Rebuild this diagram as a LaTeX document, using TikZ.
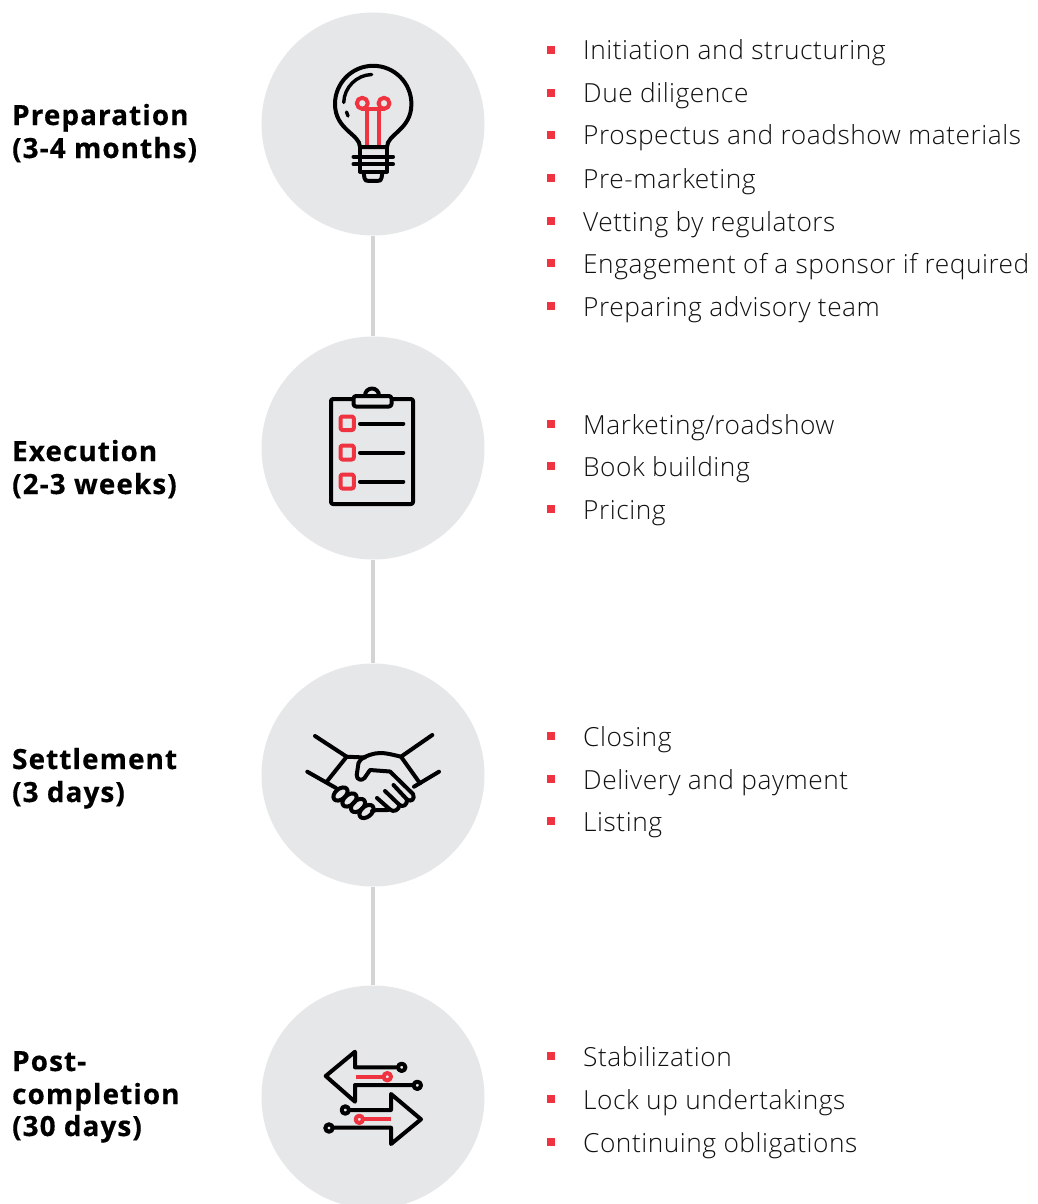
\documentclass[tikz,border=0pt]{standalone}
\usepackage{fontspec}
\newfontfamily\bodyf{Open Sans Light}[LetterSpace=2]
\newfontfamily\headf{Open Sans Bold}[LetterSpace=4,FakeBold=0.5]
\definecolor{disc}{HTML}{E6E7E9}
\definecolor{rule}{HTML}{D4D4D4}
\definecolor{accent}{HTML}{EF3340}
\definecolor{ink}{HTML}{111111}
\tikzset{
  disc/.style={circle,fill=disc,draw=none,minimum size=223pt,inner sep=0pt},
  link/.style={draw=rule,line width=4.5pt},
  head/.style={anchor=base west,inner sep=0pt,text=black,font=\headf\fontsize{27.8}{27}\selectfont},
  item/.style={anchor=base west,inner sep=0pt,text=ink,font=\bodyf\fontsize{26.3}{27}\selectfont},
  bullet/.style={fill=accent,draw=none,minimum size=8pt,inner sep=0pt},
  ic/.style={draw=black,line width=4pt,line cap=round,line join=round},
  icr/.style={draw=accent,line width=4pt,line cap=round,line join=round},
}
\begin{document}
\begin{tikzpicture}[x=1pt,y=-1pt]
\useasboundingbox[fill=white] (0,0) rectangle (1037,1204);
\begin{scope}
\clip (0,0) rectangle (1037,1204);
\node[disc] (c1) at (373,124) {};
\node[disc] (c2) at (373,448) {};
\node[disc] (c3) at (373,775) {};
\node[disc] (c4) at (373,1097) {};
\end{scope}
\draw[link] (c1) -- (c2);
\draw[link] (c2) -- (c3);
\draw[link] (c3) -- (c4);
% labels
\node[head] (h1a) at (12,125) {Preparation};
\node[head] (h1b) at (12,158) {(3-4 months)};
\node[head] (h2a) at (12,461) {Execution};
\node[head] (h2b) at (12,494) {(2-3 weeks)};
\node[head] (h3a) at (12,769) {Settlement};
\node[head] (h3b) at (12,802) {(3 days)};
\node[head] (h4a) at (12,1071) {Post-};
\node[head] (h4b) at (12,1104) {completion};
\node[head] (h4c) at (12,1136) {(30 days)};
% lists
\foreach \n/\y/\t in {
 1/60/Initiation and structuring,
 2/103/Due diligence,
 3/145/Prospectus and roadshow materials,
 4/188/Pre-marketing,
 5/231/Vetting by regulators,
 6/273/Engagement of a sponsor if required,
 7/316/Preparing advisory team,
 8/434/Marketing\slash roadshow,
 9/476/Book building,
 10/519/Pricing,
 11/746/Closing,
 12/789/Delivery and payment,
 13/831/Listing,
 14/1066/Stabilization,
 15/1109/Lock up undertakings,
 16/1152/Continuing obligations}{
  \node[item] (t\n) at (583,\y) {\t};
  \node[bullet] (b\n) at (551,\y-10) {};
}
% bulb
\draw[ic] (360,147) .. controls (360,134) and (335,130) .. (335,104) arc[start angle=180,end angle=0,radius=38.2pt] .. controls (411.4,130) and (387,134) .. (387,147) -- cycle;
\draw[ic] (353.5,156.7) -- (393,156.7);
\draw[ic] (353.5,164.3) -- (393,164.3);
\draw[ic] (360,147) -- (360,171.5) -- (387,171.5) -- (387,147);
\draw[ic] (363.5,172) -- (364.5,178) .. controls (365,180.5) and (366,180.8) .. (368,180.8) -- (378,180.8) .. controls (380,180.8) and (381,180.5) .. (381.5,178) -- (382.5,172);
\draw[ic,line width=3.4pt] (371.7,74.5) arc[start angle=92,end angle=178,radius=29pt];
\draw[ic,line width=3.4pt] (346.5,112) -- (348,116);
\draw[icr,line cap=butt] (366.7,145) -- (366.7,108.8);
\draw[icr,line cap=butt] (379.3,145) -- (379.3,108.8);
\draw[icr] (362.3,103.3) circle[radius=5.5pt];
\draw[icr] (384,103.3) circle[radius=5.5pt];
\draw[icr] (362.3,108.8) -- (384,108.8);
% clipboard
\draw[ic,rounded corners=2pt] (353,399) -- (331,399) -- (331,504) -- (413,504) -- (413,399) -- (391.5,399);
\draw[ic,rounded corners=2.5pt,fill=disc] (353.5,396) rectangle (391.5,406.5);
\draw[ic] (365,395.5) arc[start angle=180,end angle=0,radius=7pt];
\draw[icr,rounded corners=2pt] (340.5,416.5) rectangle (353.8,430);
\draw[icr,rounded corners=2pt] (340.5,445.5) rectangle (353.8,459.5);
\draw[icr,rounded corners=2pt] (340.5,474.5) rectangle (353.8,488.5);
\draw[ic] (360,423.7) -- (403.3,423.7);
\draw[ic] (360,452.7) -- (403.3,452.7);
\draw[ic] (360,481.7) -- (403.3,481.7);
% handshake
\draw[ic] (315,736) -- (346.7,756.7) -- (326.7,781.7);
\draw[ic] (307.3,771.7) -- (336,788);
\draw[ic] (432.3,735) -- (401,756.7) -- (420,783.3);
\draw[ic] (439,771.7) -- (414,786.7);
\draw[ic] (346.7,756.7) -- (365,757.5);
\draw[ic] (401,756.7) .. controls (390,754) and (382,752) .. (375,753.5) .. controls (368,755) and (360,758) .. (358.5,763) -- (356.7,775) .. controls (356.5,780) and (362,781) .. (364.5,778) -- (370,770) -- (390,771.5) -- (413,794) .. controls (415.5,799) and (411,802.5) .. (407,799.5) -- (393.5,785);
\draw[ic] (407,799.5) .. controls (407.5,805) and (403,807.5) .. (399.5,805) -- (385,791);
\draw[ic] (399.5,805) .. controls (399,810.5) and (393,812.5) .. (390,809.5) -- (377,798);
\draw[ic] (390,809.5) .. controls (385,811.5) and (381,808.5) .. (372,811);
\foreach \i/\x/\y in {1/340.5/794,2/349.5/800,3/358/805.5,4/366.5/811.5}{
  \draw[ic,rotate around={-50:(\x,\y)}] (\x,\y) ellipse[x radius=5.2pt,y radius=8.2pt];
}
% arrows
\draw[ic] (397.5,1067.3) -- (355,1067.3) -- (355,1051.7) -- (325.7,1076) -- (355,1101.7) -- (355,1085) -- (413.3,1085);
\draw[ic] (401.7,1067.3) circle[radius=3.7pt];
\draw[ic] (417.3,1085.3) circle[radius=3.7pt];
\draw[icr,line cap=butt] (355.7,1076.7) -- (383.5,1076.7);
\draw[icr] (387.3,1076.7) circle[radius=3.7pt];
\draw[ic] (349.3,1110) -- (391,1110) -- (391,1094) -- (421,1119.3) -- (391,1144) -- (391,1127.7) -- (333,1127.7);
\draw[ic] (345.3,1110) circle[radius=3.7pt];
\draw[ic] (329,1128) circle[radius=3.7pt];
\draw[icr,line cap=butt] (391,1119.3) -- (363.3,1119.3);
\draw[icr] (359.3,1119.3) circle[radius=3.7pt];
\end{tikzpicture}
\end{document}
